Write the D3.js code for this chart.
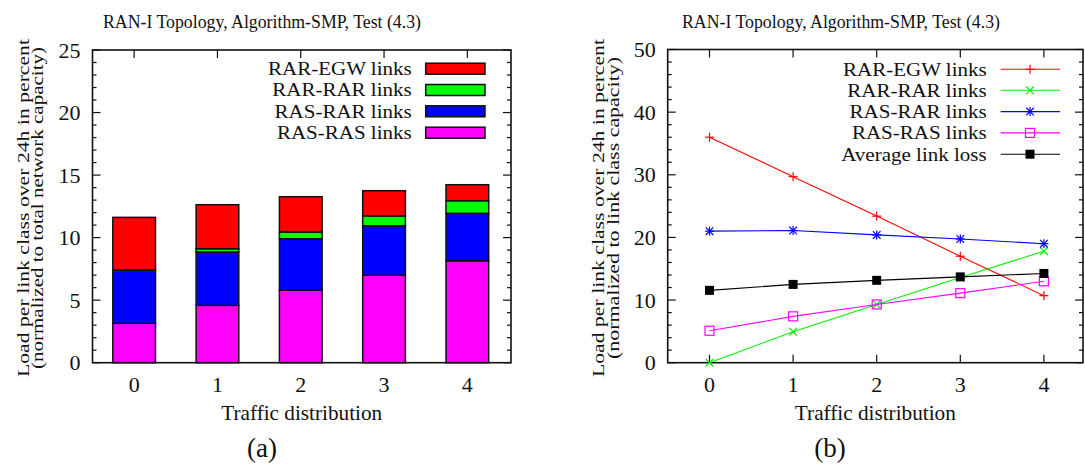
<!DOCTYPE html>
<html><head><meta charset="utf-8">
<script src="https://cdn.jsdelivr.net/npm/d3@7"></script>
<style>
body{margin:0;background:#fff;}
</style></head>
<body><svg id="c" width="1085" height="470"></svg>
<script>
const categories = [0, 1, 2, 3, 4];
const title = "RAN-I Topology, Algorithm-SMP, Test (4.3)";
const xLabel = "Traffic distribution";
const yLabelA = ["Load per link class over 24h in percent", "(normalized to total network capacity)"];
const yLabelB = ["Load per link class over 24h in percent", "(normalized to link class capacity)"];
const yTicksA = [0, 5, 10, 15, 20, 25];
const yTicksB = [0, 10, 20, 30, 40, 50];

// (a) stacked bar segments
const barRasRas = [3.15, 4.59, 5.81, 6.99, 8.15];
const barRasRar = [4.26, 4.26, 4.10, 3.96, 3.79];
const barRarRar = [0.0, 0.26, 0.54, 0.78, 1.01];
const barRarEgw = [4.21, 3.52, 2.82, 2.02, 1.28];

// (b) line series
const lineRarEgw = [36.0, 29.7, 23.4, 17.0, 10.7];
const lineRarRar = [0.0, 4.95, 9.3, 13.6, 17.8];
const lineRasRar = [21.0, 21.1, 20.4, 19.75, 19.0];
const lineRasRas = [5.1, 7.4, 9.3, 11.1, 13.0];
const lineAvgLoss = [11.55, 12.5, 13.15, 13.7, 14.25];

const svg = d3.select("#c").attr("font-family", "'Liberation Serif', 'Times New Roman', serif");
const FS = 21;
const fit = (sel, w) => sel.attr("textLength", w).attr("lengthAdjust", "spacingAndGlyphs");

// legend text: width of a 21px font, drawn with a slightly smaller glyph height
function legendText(g, x, y, str) {
  const t = g.append("text").attr("x", x).attr("y", y).attr("dy", "0.35em").attr("text-anchor", "end").attr("font-size", 21).attr("fill", "#111").text(str);
  const w = t.node().getComputedTextLength();
  t.attr("font-size", 18);
  fit(t, w);
}

function ylabel(g, lines, x1, cy, len2) {
  lines.forEach((t, i) => {
    const tx = g.append("text")
      .attr("transform", `translate(${x1 + i * 14.5},${cy}) rotate(-90)`)
      .attr("text-anchor", "middle")
      .attr("font-size", 17)
      .attr("fill", "#111")
      .text(t);
    fit(tx, i === 0 ? 338 : len2);
  });
}

function frameAxes(g, L, R, T, B, x, y, yTicks, yMinorStep, bottomTicks) {
  const yMax = yTicks[yTicks.length - 1];
  const minor = d3.range(0, yMax + 0.001, yMinorStep);
  minor.forEach(v => {
    const major = yTicks.includes(Math.round(v * 1000) / 1000);
    const len = major ? 8 : 4;
    g.append("line").attr("x1", L).attr("x2", L + len).attr("y1", y(v)).attr("y2", y(v)).attr("stroke", "#111").attr("stroke-width", 1.2);
    g.append("line").attr("x1", R).attr("x2", R - len).attr("y1", y(v)).attr("y2", y(v)).attr("stroke", "#111").attr("stroke-width", 1.2);
  });
  yTicks.forEach(v => {
    g.append("text").attr("x", L - 12).attr("y", y(v)).attr("dy", "0.35em").attr("text-anchor", "end").attr("font-size", 22).attr("fill", "#111").text(v);
  });
  categories.forEach(c => {
    g.append("line").attr("x1", x(c)).attr("x2", x(c)).attr("y1", T).attr("y2", T + 8).attr("stroke", "#111").attr("stroke-width", 1.2);
    if (bottomTicks) g.append("line").attr("x1", x(c)).attr("x2", x(c)).attr("y1", B).attr("y2", B - 8).attr("stroke", "#111").attr("stroke-width", 1.2);
    g.append("text").attr("x", x(c)).attr("y", 392).attr("text-anchor", "middle").attr("font-size", 22).attr("fill", "#111").text(c);
  });
  g.append("rect").attr("x", L).attr("y", T).attr("width", R - L).attr("height", B - T).attr("fill", "none").attr("stroke", "#111").attr("stroke-width", 1.6);
  const xl = g.append("text").attr("x", (L + R) / 2).attr("y", 420).attr("text-anchor", "middle").attr("font-size", FS).attr("fill", "#111").text(xLabel);
  fit(xl, 161);
}

function titleText(g, cx) {
  const t = g.append("text").attr("x", cx).attr("y", 28).attr("text-anchor", "middle").attr("font-size", 19).attr("fill", "#111").text(title);
  fit(t, 318);
}

// ---------- (a) ----------
{
  const L = 92.5, R = 511, T = 50, B = 362.7;
  const g = svg.append("g");
  const x = d3.scaleLinear().domain([-0.5, 4.5]).range([L, L + 5 * 83.3]);
  const y = d3.scaleLinear().domain([0, 25]).range([B, T]);
  const series = [
    {name: "RAS-RAS links", vals: barRasRas, color: "#ff00ff"},
    {name: "RAS-RAR links", vals: barRasRar, color: "#0000ff"},
    {name: "RAR-RAR links", vals: barRarRar, color: "#00ff00"},
    {name: "RAR-EGW links", vals: barRarEgw, color: "#ff0000"}
  ];
  const table = categories.map((c, i) => {
    const o = {cat: c};
    series.forEach(s => o[s.name] = s.vals[i]);
    return o;
  });
  const stack = d3.stack().keys(series.map(s => s.name))(table);
  const bw = 42.7;
  stack.forEach((layer, si) => {
    g.selectAll(null).data(layer).enter().append("rect")
      .attr("x", d => x(d.data.cat) - bw / 2)
      .attr("width", bw)
      .attr("y", d => y(d[1]))
      .attr("height", d => Math.max(0, y(d[0]) - y(d[1])))
      .attr("fill", series[si].color)
      .attr("stroke", "#111").attr("stroke-width", 1.5)
      .attr("display", d => (d[1] - d[0]) > 0 ? null : "none");
  });
  frameAxes(g, L, R, T, B, x, y, yTicksA, 1, false);
  const legOrder = [series[3], series[2], series[1], series[0]];
  const rows = [68.7, 90, 111.3, 132.7];
  legOrder.forEach((s, i) => {
    legendText(g, 411.7, rows[i], s.name);
    g.append("rect").attr("x", 425.7).attr("y", rows[i] - 5.5).attr("width", 59.3).attr("height", 11).attr("fill", s.color).attr("stroke", "#111").attr("stroke-width", 1.5);
  });
  titleText(g, 262);
  ylabel(g, yLabelA, 28.5, 208, 322);
  g.append("text").attr("x", 262).attr("y", 457).attr("text-anchor", "middle").attr("font-size", 27).attr("fill", "#111").text("(a)");
}

// ---------- (b) ----------
{
  const L = 667.7, R = 1083, T = 49.5, B = 362.7;
  const g = svg.append("g");
  const x = d3.scaleLinear().domain([-0.5, 4.5]).range([L, L + 5 * 83.6]);
  const y = d3.scaleLinear().domain([0, 50]).range([B, T]);
  const series = [
    {name: "RAR-EGW links", vals: lineRarEgw, color: "#ff0000", marker: "plus"},
    {name: "RAR-RAR links", vals: lineRarRar, color: "#00ee00", marker: "cross"},
    {name: "RAS-RAR links", vals: lineRasRar, color: "#0000ff", marker: "star"},
    {name: "RAS-RAS links", vals: lineRasRas, color: "#ff00ff", marker: "square"},
    {name: "Average link loss", vals: lineAvgLoss, color: "#000000", marker: "fsquare"}
  ];
  frameAxes(g, L, R, T, B, x, y, yTicksB, 2, true);
  const s4 = 4.5;
  function marker(gg, type, cx, cy, color) {
    const ln = (x1, y1, x2, y2) => gg.append("line").attr("x1", x1).attr("y1", y1).attr("x2", x2).attr("y2", y2).attr("stroke", color).attr("stroke-width", 1.2);
    if (type === "plus" || type === "star") { ln(cx - s4, cy, cx + s4, cy); ln(cx, cy - s4, cx, cy + s4); }
    if (type === "cross" || type === "star") { ln(cx - s4 * 0.85, cy - s4 * 0.85, cx + s4 * 0.85, cy + s4 * 0.85); ln(cx - s4 * 0.85, cy + s4 * 0.85, cx + s4 * 0.85, cy - s4 * 0.85); }
    if (type === "square") gg.append("rect").attr("x", cx - 4.5).attr("y", cy - 4.5).attr("width", 9).attr("height", 9).attr("fill", "none").attr("stroke", color).attr("stroke-width", 1.2);
    if (type === "fsquare") gg.append("rect").attr("x", cx - 4.5).attr("y", cy - 4.5).attr("width", 9).attr("height", 9).attr("fill", color);
  }
  const line = d3.line().x((d, i) => x(categories[i])).y(d => y(d));
  series.forEach(s => {
    g.append("path").attr("d", line(s.vals)).attr("fill", "none").attr("stroke", s.color).attr("stroke-width", 1.1);
    s.vals.forEach((v, i) => marker(g, s.marker, x(categories[i]), y(v), s.color));
  });
  const rows = [69.3, 90.3, 111.6, 132.9, 154.2];
  series.forEach((s, i) => {
    legendText(g, 986.7, rows[i], s.name);
    g.append("line").attr("x1", 1000.7).attr("x2", 1060).attr("y1", rows[i]).attr("y2", rows[i]).attr("stroke", s.color).attr("stroke-width", 1.1);
    marker(g, s.marker, 1030, rows[i], s.color);
  });
  titleText(g, 841);
  ylabel(g, yLabelB, 604, 208, 302);
  g.append("text").attr("x", 830).attr("y", 457).attr("text-anchor", "middle").attr("font-size", 27).attr("fill", "#111").text("(b)");
}
</script></body></html>
